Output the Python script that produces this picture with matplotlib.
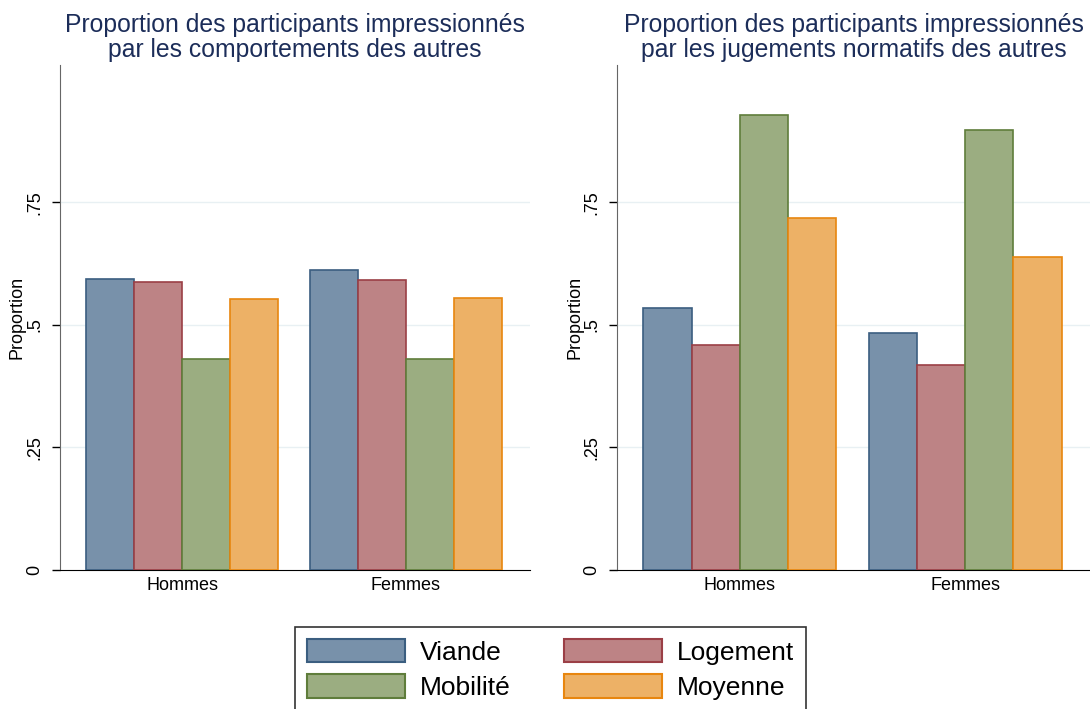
import numpy as np
import matplotlib
matplotlib.use('Agg')
import matplotlib.pyplot as plt
from matplotlib.patches import Patch

plt.rcParams['font.family'] = ['Liberation Sans', 'DejaVu Sans']

# data
groups = ['Hommes', 'Femmes']
series = ['Viande', 'Logement', 'Mobilité', 'Moyenne']
comportements = {
    'Viande':   [0.594, 0.612],
    'Logement': [0.588, 0.592],
    'Mobilité': [0.431, 0.431],
    'Moyenne':  [0.553, 0.555],
}
jugements = {
    'Viande':   [0.535, 0.484],
    'Logement': [0.459, 0.418],
    'Mobilité': [0.929, 0.898],
    'Moyenne':  [0.718, 0.639],
}
titles = ['Proportion des participants impressionnés\npar les comportements des autres',
          'Proportion des participants impressionnés\npar les jugements normatifs des autres']
yticks = [0, 0.25, 0.5, 0.75]
yticklabels = ['0', '.25', '.5', '.75']

fills = {'Viande': '#7891aa', 'Logement': '#bd8385', 'Mobilité': '#9bad81', 'Moyenne': '#edb166'}
edges = {'Viande': '#3b5e80', 'Logement': '#9b3f46', 'Mobilité': '#5f7d3b', 'Moyenne': '#e8860f'}

W, H = 1090, 709
fig = plt.figure(figsize=(W / 100, H / 100), dpi=100)

def px_axes(x0, x1, y0, y1):
    return fig.add_axes([x0 / W, 1 - y1 / H, (x1 - x0) / W, (y1 - y0) / H])

ax_left = px_axes(60, 530, 65, 570)
ax_right = px_axes(617, 1090, 65, 570)

bar_w = 0.214
x = np.arange(len(groups))

for ax, data, title in [(ax_left, comportements, titles[0]), (ax_right, jugements, titles[1])]:
    for i, s in enumerate(series):
        ax.bar(x + (i - 1.5) * bar_w, data[s], width=bar_w, color=fills[s],
               edgecolor=edges[s], linewidth=1.2, zorder=3)
    ax.set_xlim(-0.545, 1.554)
    ax.set_ylim(0, 1.03)
    ax.set_yticks(yticks)
    ax.set_yticklabels(yticklabels, rotation=90, va='center', fontsize=13)
    ax.set_xticks(x)
    ax.set_xticklabels(groups, fontsize=13)
    ax.tick_params(axis='x', length=0, pad=5)
    ax.tick_params(axis='y', length=6, width=1, direction='out', pad=6)
    for yv in yticks[1:]:
        ax.axhline(yv, color='#e8f0f3', linewidth=1, zorder=1)
    ax.spines['top'].set_visible(False)
    ax.spines['right'].set_visible(False)
    ax.spines['left'].set_color('#666666')
    ax.spines['bottom'].set_color('black')
    ax.set_ylabel('Proportion', fontsize=13)
    ax.set_title(title, fontsize=17.8, color='#1c2d59', linespacing=1.02, pad=6)

ax_left.yaxis.set_label_coords(-0.092, 0.5)
ax_right.yaxis.set_label_coords(-0.089, 0.5)
for ax in (ax_left, ax_right):
    ax.yaxis.label.set_va('center')

# legend fills row by row in the reference: Viande, Logement / Mobilité, Moyenne
order = ['Viande', 'Mobilité', 'Logement', 'Moyenne']
handles = [Patch(facecolor=fills[s], edgecolor=edges[s], linewidth=1.5, label=s) for s in order]
leg = fig.legend(handles=handles, loc='upper left', bbox_to_anchor=(295 / W, 1 - 627 / H),
                 ncol=2, fontsize=19, frameon=True, fancybox=False, edgecolor='black',
                 handlelength=3.7, handleheight=1.0, columnspacing=2.0, handletextpad=0.6,
                 borderpad=0.45, labelspacing=0.35, borderaxespad=0)
leg.get_frame().set_linewidth(1.2)

fig.savefig('out.png', dpi=100, facecolor='white')
